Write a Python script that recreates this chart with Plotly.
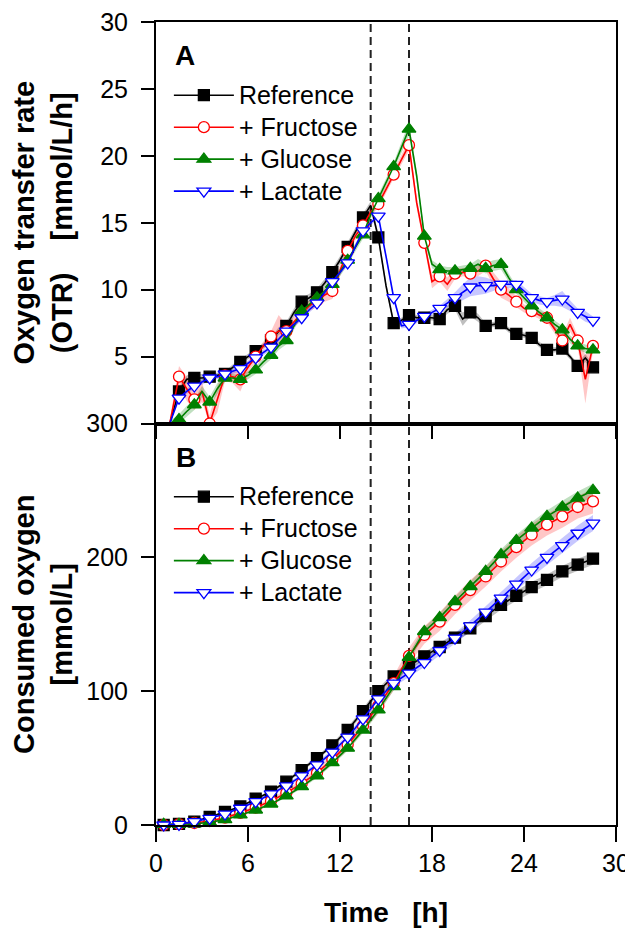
import plotly.graph_objects as go

# ---------------- data ----------------
NAMES = ["Reference", "+ Fructose", "+ Glucose", "+ Lactate"]

# Panel A: oxygen transfer rate (mmol/L/h), line resolution 0.5 h
T_OTR = [0.9, 1.5, 2.0, 2.5, 3.0, 3.5, 4.0, 4.5, 5.0, 5.5,
         6.0, 6.5, 7.0, 7.5, 8.0, 8.5, 9.0, 9.5, 10.0, 10.5,
         11.0, 11.5, 12.0, 12.5, 13.0, 13.5, 14.0, 14.5, 15.0, 15.5,
         16.0, 16.5, 17.0, 17.5, 18.0, 18.5, 19.0, 19.5, 20.0, 20.5,
         21.0, 21.5, 22.0, 22.5, 23.0, 23.5, 24.0, 24.5, 25.0, 25.5,
         26.0, 26.5, 27.0, 27.5, 28.0, 28.5]
OTR_REF = [0.0, 2.4, 3.3, 3.4, 3.4, 3.5, 3.6, 3.7, 4.2, 4.6,
           5.0, 5.4, 5.8, 6.2, 6.9, 7.3, 8.3, 9.1, 9.4, 9.8,
           10.5, 11.3, 12.2, 13.2, 14.3, 15.4, 16.3, 13.9, 10.3, 7.5,
           7.7, 8.1, 7.9, 7.9, 7.9, 7.8, 8.5, 8.8, 7.8, 8.3,
           7.9, 7.3, 7.4, 7.5, 7.0, 6.7, 6.6, 6.4, 5.9, 5.5,
           5.5, 5.6, 5.0, 4.3, 4.9, 4.2]
OTR_FRU = [0.0, 3.5, 2.6, 1.8, 2.4, 0.0, 1.8, 3.6, 3.5, 3.3,
           4.2, 5.0, 5.8, 6.5, 6.9, 6.9, 7.6, 8.2, 8.8, 9.2,
           9.6, 9.9, 11.4, 12.9, 14.0, 14.8, 15.8, 16.4, 17.5, 18.6,
           19.7, 20.8, 16.5, 13.5, 10.6, 11.0, 10.4, 11.2, 11.3, 11.2,
           11.4, 11.8, 10.8, 10.0, 9.6, 9.1, 8.6, 8.4, 8.1, 7.9,
           7.0, 6.2, 7.4, 6.2, 3.3, 5.8]
OTR_GLC = [0.0, 0.3, 0.9, 1.4, 2.4, 1.6, 2.6, 3.4, 3.4, 3.3,
           3.6, 4.0, 4.6, 5.1, 5.8, 6.2, 7.3, 8.4, 8.9, 9.4,
           9.9, 10.4, 11.3, 12.2, 13.1, 14.1, 15.6, 16.8, 18.0, 19.2,
           20.6, 22.0, 18.5, 14.0, 11.9, 11.5, 11.4, 11.4, 11.5, 11.6,
           11.9, 11.6, 11.8, 11.9, 10.9, 10.0, 9.4, 8.8, 8.3, 7.9,
           7.4, 7.0, 6.3, 5.8, 5.6, 5.5]
OTR_LAC = [0.0, 1.9, 2.4, 2.8, 3.1, 3.4, 3.5, 3.7, 3.9, 4.1,
           4.5, 4.9, 5.3, 5.7, 6.3, 6.9, 7.4, 7.9, 8.5, 9.0,
           9.8, 10.6, 11.3, 12.0, 13.2, 14.4, 15.0, 15.5, 12.5, 9.4,
           7.3, 7.4, 7.7, 8.0, 8.3, 8.6, 9.0, 9.4, 9.8, 10.2,
           10.3, 10.3, 10.3, 10.4, 10.4, 10.4, 9.9, 9.4, 9.2, 9.1,
           9.2, 9.3, 8.8, 8.3, 8.0, 7.7]
SD_OTR_REF = [0.1, 0.3, 0.3, 0.3, 0.3, 0.3, 0.2, 0.2, 0.2, 0.2,
              0.2, 0.2, 0.2, 0.2, 0.3, 0.3, 0.3, 0.3, 0.3, 0.3,
              0.3, 0.3, 0.3, 0.3, 0.3, 0.3, 0.3, 0.3, 0.3, 0.2,
              0.2, 0.2, 0.2, 0.2, 0.2, 0.2, 0.3, 0.3, 0.5, 0.3,
              0.3, 0.2, 0.2, 0.2, 0.2, 0.2, 0.2, 0.2, 0.2, 0.2,
              0.2, 0.2, 0.2, 0.2, 0.3, 0.2]
SD_OTR_FRU = [0.3, 0.8, 0.9, 0.8, 0.8, 0.6, 1.0, 0.4, 0.5, 0.9,
              0.4, 0.4, 0.3, 0.4, 1.2, 0.5, 0.4, 0.4, 0.4, 0.5,
              0.5, 0.6, 0.4, 0.4, 0.3, 0.3, 0.3, 0.3, 0.3, 0.3,
              0.3, 0.4, 0.4, 0.3, 0.5, 0.4, 0.5, 0.4, 0.3, 0.3,
              0.4, 0.4, 0.5, 0.6, 0.5, 0.4, 0.3, 0.3, 0.3, 0.3,
              0.3, 0.4, 0.5, 0.4, 1.8, 0.4]
SD_OTR_GLC = [0.2, 0.4, 0.4, 0.4, 0.4, 0.4, 0.4, 0.3, 0.3, 0.3,
              0.3, 0.3, 0.3, 0.3, 0.3, 0.3, 0.3, 0.3, 0.3, 0.3,
              0.3, 0.3, 0.3, 0.3, 0.3, 0.3, 0.3, 0.3, 0.3, 0.3,
              0.4, 0.5, 0.4, 0.3, 0.3, 0.3, 0.3, 0.3, 0.3, 0.3,
              0.4, 0.4, 0.4, 0.4, 0.3, 0.3, 0.3, 0.3, 0.3, 0.3,
              0.3, 0.3, 0.3, 0.3, 0.3, 0.3]
SD_OTR_LAC = [0.2, 0.2, 0.2, 0.2, 0.2, 0.2, 0.2, 0.2, 0.2, 0.2,
              0.2, 0.2, 0.2, 0.2, 0.2, 0.2, 0.2, 0.2, 0.2, 0.2,
              0.2, 0.2, 0.2, 0.2, 0.2, 0.2, 0.2, 0.2, 0.2, 0.2,
              0.2, 0.2, 0.2, 0.2, 0.2, 0.2, 0.3, 0.4, 0.6, 0.7,
              0.7, 0.6, 0.4, 0.3, 0.3, 0.3, 0.3, 0.3, 0.3, 0.3,
              0.4, 0.6, 0.4, 0.3, 0.4, 0.3]

# Panel B: consumed oxygen (mmol/L), hourly
T_CONS = [0.5, 1.5, 2.5, 3.5, 4.5, 5.5, 6.5, 7.5, 8.5, 9.5,
          10.5, 11.5, 12.5, 13.5, 14.5, 15.5, 16.5, 17.5, 18.5, 19.5,
          20.5, 21.5, 22.5, 23.5, 24.5, 25.5, 26.5, 27.5, 28.5]
CONS_REF = [0.0, 0.8, 2.5, 6.0, 9.7, 13.9, 19.6, 25.0, 32.4, 41.0,
            50.0, 59.5, 71.0, 85.0, 100.0, 111.0, 119.0, 126.0, 133.0, 140.0,
            147.0, 156.0, 164.5, 171.3, 177.8, 183.2, 189.5, 194.5, 199.0]
CONS_FRU = [0.0, 0.6, 1.5, 3.0, 5.5, 9.0, 13.0, 18.0, 24.0, 31.0,
            39.0, 49.0, 60.0, 74.0, 89.0, 106.0, 126.4, 142.0, 152.0, 164.5,
            175.5, 185.7, 196.9, 207.6, 216.9, 224.4, 230.6, 237.6, 241.8]
CONS_GLC = [0.5, 0.5, 0.8, 2.0, 4.0, 7.5, 11.2, 15.7, 21.7, 28.7,
            36.7, 46.6, 57.4, 71.0, 86.0, 103.4, 125.3, 144.6, 155.0, 167.0,
            178.2, 189.5, 202.0, 212.6, 221.9, 230.6, 237.6, 244.3, 250.0]
CONS_LAC = [0.0, 0.5, 2.5, 5.0, 8.2, 12.5, 17.4, 23.2, 29.2, 36.7,
            44.9, 54.4, 65.6, 79.3, 94.2, 106.0, 113.5, 121.4, 130.4, 139.6,
            148.8, 159.0, 169.5, 180.0, 190.5, 199.9, 208.7, 218.0, 225.6]
SD_CONS_REF = [0.3, 0.3, 0.4, 0.5, 0.6, 0.7, 0.8, 1.0, 1.2, 1.4,
               1.6, 1.8, 2.0, 2.2, 2.4, 2.6, 2.8, 3.0, 3.0, 3.0,
               3.2, 3.4, 3.6, 3.8, 4.0, 4.0, 4.2, 4.4, 4.5]
SD_CONS_FRU = [0.3, 0.4, 0.6, 0.8, 1.0, 1.3, 1.6, 2.0, 2.4, 2.8,
               3.2, 3.6, 4.0, 4.5, 5.0, 5.5, 6.0, 6.5, 7.0, 7.0,
               7.5, 7.5, 7.5, 8.0, 8.0, 8.0, 8.5, 8.5, 9.0]
SD_CONS_GLC = [0.3, 0.3, 0.4, 0.5, 0.6, 0.7, 0.9, 1.0, 1.2, 1.4,
               1.6, 1.8, 2.0, 2.3, 2.6, 2.8, 3.0, 3.2, 3.4, 3.6,
               3.8, 4.0, 4.0, 4.2, 4.4, 4.5, 4.6, 4.8, 5.0]
SD_CONS_LAC = [0.3, 0.4, 0.5, 0.6, 0.7, 0.8, 1.0, 1.2, 1.4, 1.6,
               1.8, 2.0, 2.2, 2.4, 2.6, 2.8, 3.0, 3.3, 3.6, 3.9,
               4.2, 4.5, 4.8, 5.0, 5.2, 5.4, 5.6, 5.8, 6.0]

X_TICKS = [0, 6, 12, 18, 24, 30]
Y1_TICKS = [5, 10, 15, 20, 25, 30]
Y2_TICKS = [0, 100, 200, 300]
FEED_TIMES = [14.0, 16.5]

# ---------------- styles ----------------
COLORS = ["#000000", "#FF0000", "#008000", "#0000FF"]
BANDS = ["rgba(0,0,0,0.25)", "rgba(255,0,0,0.22)", "rgba(0,128,0,0.25)", "rgba(0,0,255,0.22)"]
SYMBOLS = ["square", "circle", "triangle-up", "triangle-down"]
FILLS = ["#000000", "#FFFFFF", "#008000", "#FFFFFF"]
MSIZES = [11, 11, 12, 12]
FONT = "Liberation Sans, Arial, sans-serif"

otr_series = [(OTR_REF, SD_OTR_REF), (OTR_FRU, SD_OTR_FRU), (OTR_GLC, SD_OTR_GLC), (OTR_LAC, SD_OTR_LAC)]
cons_series = [(CONS_REF, SD_CONS_REF), (CONS_FRU, SD_CONS_FRU), (CONS_GLC, SD_CONS_GLC), (CONS_LAC, SD_CONS_LAC)]

fig = go.Figure()


def add_panel(t, series, xa, ya, legend, marker_slice, clip):
    # shaded bands first
    for i, (vals, sd) in enumerate(series):
        hi = [v + s for v, s in zip(vals, sd)]
        lo = [max(v - s, 0) for v, s in zip(vals, sd)]
        fig.add_trace(go.Scatter(
            x=list(t) + list(t)[::-1], y=hi + lo[::-1], fill="toself",
            fillcolor=BANDS[i], line=dict(width=0), mode="lines",
            xaxis=xa, yaxis=ya, showlegend=False, hoverinfo="skip"))
    for i, (vals, sd) in enumerate(series):
        fig.add_trace(go.Scatter(
            x=t, y=vals, mode="lines", line=dict(color=COLORS[i], width=1.6),
            xaxis=xa, yaxis=ya, showlegend=False))
        fig.add_trace(go.Scatter(
            x=t[marker_slice], y=vals[marker_slice], mode="markers",
            marker=dict(symbol=SYMBOLS[i], size=MSIZES[i], color=FILLS[i],
                        line=dict(color=COLORS[i], width=1.3)),
            xaxis=xa, yaxis=ya, showlegend=False, cliponaxis=clip))
        # legend entry (line + marker)
        fig.add_trace(go.Scatter(
            x=[None], y=[None], mode="lines+markers",
            name='<span style="font-size:25px">' + NAMES[i] + "</span>",
            line=dict(color=COLORS[i], width=1.6),
            marker=dict(symbol=SYMBOLS[i], size=MSIZES[i], color=FILLS[i],
                        line=dict(color=COLORS[i], width=1.3)),
            xaxis=xa, yaxis=ya, legend=legend, showlegend=True))


add_panel(T_OTR, otr_series, "x", "y", "legend", slice(1, None, 2), True)
add_panel(T_CONS, cons_series, "x2", "y2", "legend2", slice(None), False)

axis_common = dict(showline=True, linewidth=2, linecolor="black", mirror=True,
                   showgrid=False, zeroline=False, ticks="outside", tickwidth=2,
                   tickcolor="black", automargin=False, ticklabeloverflow="allow",
                   tickfont=dict(size=25, family=FONT, color="black"))

legend_common = dict(xanchor="left", yanchor="top", bgcolor="rgba(0,0,0,0)",
                     font=dict(size=22.3, family=FONT, color="black"),
                     itemwidth=60, itemsizing="trace", tracegroupgap=0)

fig.update_layout(
    width=633, height=929,
    margin=dict(l=148, r=25, t=14, b=112, autoexpand=False),
    plot_bgcolor="white", paper_bgcolor="white",
    font=dict(family=FONT, color="black"),
    xaxis=dict(domain=[0, 1], anchor="y", range=[0, 30], tickvals=X_TICKS,
               showticklabels=False, ticklen=13, **axis_common),
    yaxis=dict(domain=[0.5, 1], anchor="x", range=[0, 30], tickvals=Y1_TICKS,
               ticklen=13, ticklabelstandoff=8,
               title=dict(text="Oxygen transfer rate<br>(OTR)\u00a0\u00a0\u00a0\u00a0[mmol/L/h]",
                          font=dict(size=29, family=FONT, weight="bold"), standoff=20),
               **axis_common),
    xaxis2=dict(domain=[0, 1], anchor="y2", range=[0, 30], tickvals=X_TICKS,
                ticklen=15, ticklabelstandoff=0,
                title=dict(text="Time\u00a0\u00a0\u00a0[h]",
                           font=dict(size=28, family=FONT, weight="bold"), standoff=26),
                **axis_common),
    yaxis2=dict(domain=[0, 0.5], anchor="x2", range=[0, 300], tickvals=Y2_TICKS,
                ticklen=13, ticklabelstandoff=8,
                title=dict(text="Consumed oxygen<br>[mmol/L]",
                           font=dict(size=29, family=FONT, weight="bold"), standoff=20),
                **axis_common),
    legend=dict(x=0.028, y=0.935, **legend_common),
    legend2=dict(x=0.028, y=0.435, **legend_common),
    shapes=[dict(type="line", xref="x", yref="paper", x0=t, x1=t, y0=0, y1=1,
                 line=dict(color="#222222", width=2, dash="8px,5px"), layer="below")
            for t in FEED_TIMES],
    annotations=[
        dict(text="A", xref="paper", yref="paper", x=0.063, y=0.958, showarrow=False,
             font=dict(size=28, family=FONT, weight="bold"), xanchor="center", yanchor="middle"),
        dict(text="B", xref="paper", yref="paper", x=0.065, y=0.458, showarrow=False,
             font=dict(size=28, family=FONT, weight="bold"), xanchor="center", yanchor="middle"),
    ],
)

fig.write_html("out.html")
